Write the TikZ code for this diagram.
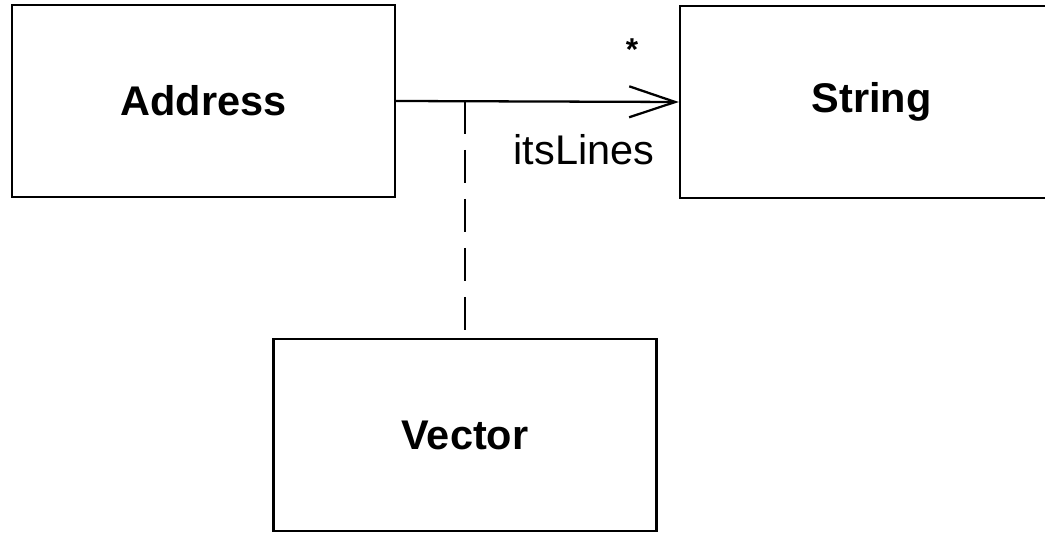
\documentclass[tikz,border=0pt]{standalone}
\usepackage{fontspec}
\setmainfont{Liberation Sans}
\usepackage{tikz}
\usetikzlibrary{calc,positioning,arrows.meta}

\begin{document}
\begin{tikzpicture}[lbl/.style={inner sep = 1pt, font=\fontsize{11.8}{14}\selectfont}]
\tikzstyle{cls}=[draw, line width=0.7pt, minimum width=3.83cm, minimum height=1.92cm, inner sep=0pt, font=\fontsize{11.8}{14}\selectfont\bfseries]
\useasboundingbox (0,0) rectangle (10.45,5.34);
\clip (0,0) rectangle (10.45,5.34);
\node[cls] (addr) at (2.035,4.33) {Address};
\node[cls] (str) at (8.715,4.32) {String};
\node[cls] (vec) at (4.65,0.99) {Vector};
\coordinate (assoc) at (addr.east -| vec.north);
% association with open arrow
\draw[line width=0.65pt, -{Straight Barb[length=4.6mm,width=3.1mm,line width=0.65pt]}] (addr.east) -- (str.west);
\draw[line width=0.65pt, dash pattern=on 0.33cm off 0.16cm] (assoc) -- (vec.north);
\node[lbl, font=\fontsize{9}{10}\selectfont\bfseries] (mult) at (6.32,4.84) {*};
\node[lbl] (role) at (5.84,3.84) {itsLines};
\end{tikzpicture}
\end{document}
